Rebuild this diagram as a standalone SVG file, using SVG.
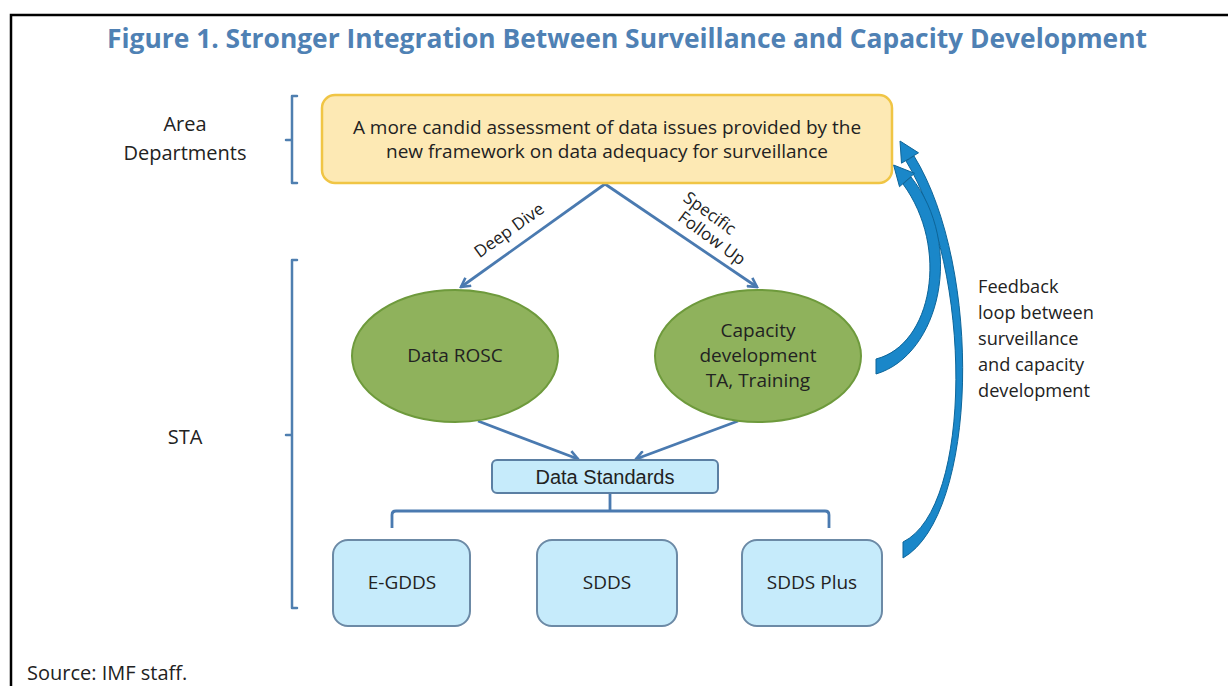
<svg xmlns="http://www.w3.org/2000/svg" width="1228" height="686" viewBox="0 0 1228 686">
  <style>
    .t { font-family: "Open Sans", "Noto Sans", "DejaVu Sans", sans-serif; fill: #222; }
    .title { font-family: "Open Sans", "Noto Sans", sans-serif; font-weight: 700; font-size: 26px; fill: #4f81b4; }
    .side { font-size: 20px; }
    .box { font-size: 19px; }
    .fbt { font-size: 18.2px; }
    .lbl { font-size: 17px; }
    .ds { font-family: "Liberation Sans", Arial, sans-serif; font-size: 20px; fill: #222; }
    .brk { fill: none; stroke: #4f7fb0; stroke-width: 2.5; stroke-linecap: round; stroke-linejoin: round; }
    .conn { fill: none; stroke: #4a7ab0; stroke-width: 2.8; }
    .std { fill: #c6ebfb; stroke: #6c8aa6; stroke-width: 2; }
    .ell { fill: #8fb25c; stroke: #6e9a3c; stroke-width: 2; }
    .fb { fill: #1a87c9; stroke: #0d6599; stroke-width: 1; stroke-linejoin: round; }
  </style>
  <defs>
    <marker id="ah" viewBox="0 0 12 12" refX="10" refY="6" markerWidth="12" markerHeight="12" markerUnits="userSpaceOnUse" orient="auto">
      <path d="M1,1 L10,6 L1,11" fill="none" stroke="#4a7ab0" stroke-width="2.6" stroke-linejoin="miter"/>
    </marker>
  </defs>

  <rect x="0" y="0" width="1228" height="686" fill="#ffffff"/>
  <!-- frame -->
  <path d="M11,686 L11,15 L1228,15" fill="none" stroke="#000" stroke-width="2.5"/>

  <text class="title" x="627" y="48" text-anchor="middle" textLength="1040" lengthAdjust="spacingAndGlyphs">Figure 1. Stronger Integration Between Surveillance and Capacity Development</text>

  <!-- side labels -->
  <g id="label-area">
    <text class="t side" x="185" y="131" text-anchor="middle">Area</text>
    <text class="t side" x="185" y="160" text-anchor="middle">Departments</text>
    <path class="brk" d="M297,96 L292,96 L292,183 L297,183 M292,140 L286,140"/>
  </g>
  <g id="label-sta">
    <text class="t side" x="185" y="444" text-anchor="middle">STA</text>
    <path class="brk" d="M297,260 L292,260 L292,608 L297,608 M292,435 L286,435"/>
  </g>

  <!-- connectors -->
  <g id="connectors">
    <line class="conn" x1="605" y1="184" x2="461" y2="287" marker-end="url(#ah)"/>
    <line class="conn" x1="605" y1="184" x2="757" y2="287" marker-end="url(#ah)"/>
    <line class="conn" x1="478" y1="421" x2="578" y2="459" marker-end="url(#ah)"/>
    <line class="conn" x1="738" y1="421" x2="636" y2="459" marker-end="url(#ah)"/>
    <path class="conn" d="M610,493 L610,511 M392,528 L392,515 Q392,511 396,511 L825,511 Q829,511 829,515 L829,528" stroke-width="2.6"/>
    <text class="t lbl" x="509" y="236" text-anchor="middle" transform="rotate(-35.5 509 230)">Deep Dive</text>
    <text class="t lbl" x="710" y="219" text-anchor="middle" transform="rotate(36 710 213)">Specific</text>
    <text class="t lbl" x="712" y="244" text-anchor="middle" transform="rotate(36 712 238)">Follow Up</text>
  </g>

  <!-- top box -->
  <g id="node-assessment">
    <rect x="322" y="95" width="570" height="88" rx="13" fill="#fde9b4" stroke="#f0c545" stroke-width="2.5"/>
    <text class="t box" x="607" y="134" text-anchor="middle">A more candid assessment of data issues provided by the</text>
    <text class="t box" x="607" y="158" text-anchor="middle">new framework on data adequacy for surveillance</text>
  </g>

  <g id="node-rosc">
    <ellipse class="ell" cx="455" cy="356" rx="103" ry="66"/>
    <text class="t box" x="455" y="362" text-anchor="middle">Data ROSC</text>
  </g>

  <g id="node-capacity">
    <ellipse class="ell" cx="758" cy="356" rx="103" ry="66"/>
    <text class="t box" x="758" y="337" text-anchor="middle">Capacity</text>
    <text class="t box" x="758" y="362" text-anchor="middle">development</text>
    <text class="t box" x="758" y="387" text-anchor="middle">TA, Training</text>
  </g>

  <g id="node-standards">
    <rect x="492" y="460" width="226" height="33" rx="5" fill="#c6ebfb" stroke="#5b7fa3" stroke-width="2"/>
    <text class="ds" x="605" y="484" text-anchor="middle">Data Standards</text>
  </g>

  <g id="node-egdds">
    <rect class="std" x="333" y="540" width="137" height="86" rx="15"/>
    <text class="t box" x="402" y="589" text-anchor="middle">E-GDDS</text>
  </g>
  <g id="node-sdds">
    <rect class="std" x="537" y="540" width="140" height="86" rx="15"/>
    <text class="t box" x="607" y="589" text-anchor="middle">SDDS</text>
  </g>
  <g id="node-sddsplus">
    <rect class="std" x="742" y="540" width="140" height="86" rx="15"/>
    <text class="t box" x="812" y="589" text-anchor="middle">SDDS Plus</text>
  </g>

  <!-- feedback arrows -->
  <g id="feedback">
    <path class="fb" d="M903,558 C978,515 983,268 914,156 L906,161 C973,270 973,508 903,542 Z"/>
    <path class="fb" d="M900,141 L918.5,152.8 L901.5,163.2 Z"/>
    <path class="fb" d="M876,374 C940,355 965,245 911,177 L903,184 C950,248 932,345 876,359 Z"/>
    <path class="fb" d="M893.6,165 L914.5,173.3 L899.5,186.7 Z"/>
    <text class="t fbt" x="978" y="293">Feedback</text>
    <text class="t fbt" x="978" y="319">loop between</text>
    <text class="t fbt" x="978" y="345">surveillance</text>
    <text class="t fbt" x="978" y="371">and capacity</text>
    <text class="t fbt" x="978" y="397">development</text>
  </g>

  <text class="t side" x="27" y="680">Source: IMF staff.</text>
</svg>
